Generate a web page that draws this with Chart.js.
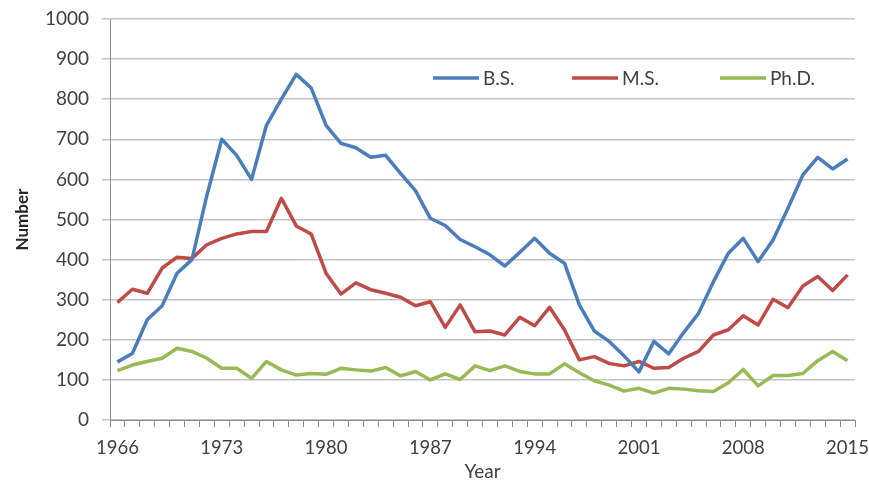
<!DOCTYPE html>
<html>
<head>
<meta charset="utf-8">
<script src="https://cdn.jsdelivr.net/npm/chart.js@4"></script>
<style>
  html, body { margin: 0; padding: 0; background: #fff; }
  #wrap { width: 869px; height: 486px; }
</style>
</head>
<body>
<div id="wrap"><canvas id="chart" width="869" height="486"></canvas></div>
<script>
// Data
const years = [];
for (let y = 1966; y <= 2015; y++) years.push(String(y));

const bsValues = [145, 166, 250, 285, 366, 400, 560, 700, 660, 600,
                  735, 800, 862, 828, 735, 690, 679, 655, 660, 615,
                  572, 503, 485, 450, 432, 412, 384, 418, 453, 416,
                  391, 287, 222, 196, 160, 120, 196, 165, 218, 266,
                  345, 416, 453, 395, 449, 528, 611, 655, 626, 651];
const msValues = [293, 326, 316, 379, 406, 403, 437, 453, 464, 470,
                  470, 553, 484, 464, 366, 314, 342, 325, 316, 306,
                  285, 295, 231, 287, 220, 222, 212, 256, 235, 281,
                  225, 150, 158, 141, 135, 146, 129, 131, 154, 171,
                  212, 225, 260, 237, 301, 280, 334, 358, 323, 362];
const phdValues = [123, 137, 146, 154, 179, 171, 154, 129, 129, 104,
                   146, 125, 112, 116, 114, 129, 125, 122, 131, 110,
                   121, 100, 115, 101, 135, 123, 135, 121, 115, 115,
                   140, 118, 98, 87, 72, 79, 67, 79, 77, 73,
                   71, 93, 126, 85, 111, 111, 116, 148, 171, 148];

const FONT = 'Lato, "Open Sans", sans-serif';
const axisGray = '#8c8c8c';
const gridGray = '#c4c4c4';

// legend drawn inside the plot, like the original
const insideLegend = {
    id: 'insideLegend',
    afterDraw(chart) {
        const c = chart.ctx;
        const y = chart.chartArea.top + 59;
        const starts = [433, 572, 720];
        c.save();
        c.font = '19px ' + FONT;
        c.textBaseline = 'middle';
        chart.data.datasets.forEach((ds, i) => {
            const x = starts[i];
            c.strokeStyle = ds.borderColor;
            c.lineWidth = 3.5;
            c.beginPath();
            c.moveTo(x, y);
            c.lineTo(x + 46, y);
            c.stroke();
            c.fillStyle = '#404040';
            c.fillText(ds.label, x + 50, y + 1);
        });
        c.restore();
    }
};

new Chart(document.getElementById('chart'), {
    type: 'line',
    data: {
        labels: years,
        datasets: [
            { label: 'B.S.', data: bsValues, borderColor: '#4a7ebb' },
            { label: 'M.S.', data: msValues, borderColor: '#be4b48' },
            { label: 'Ph.D.', data: phdValues, borderColor: '#98b954' }
        ]
    },
    options: {
        responsive: false,
        animation: false,
        layout: { padding: { top: 19, right: 14, left: 0, bottom: 0 } },
        elements: {
            line: { borderWidth: 3.5, tension: 0, borderJoinStyle: 'round' },
            point: { radius: 0 }
        },
        plugins: { legend: { display: false }, tooltip: { enabled: false } },
        scales: {
            x: {
                offset: true,
                grid: { offset: true, drawOnChartArea: false, drawTicks: true, tickLength: 7, color: axisGray },
                border: { color: axisGray },
                ticks: {
                    autoSkip: false,
                    maxRotation: 0,
                    color: '#404040',
                    font: { family: FONT, size: 18.5 },
                    padding: 10,
                    callback: function (v, i) { return i % 7 === 0 ? this.getLabelForValue(v) : ''; }
                },
                title: { display: true, text: 'Year', color: '#404040', font: { family: FONT, size: 19 }, padding: { top: 0, bottom: 3 } },
                afterFit(scale) { scale.height = 66; scale.paddingLeft = 0; scale.paddingRight = 0; }
            },
            y: {
                min: 0, max: 1000,
                ticks: { stepSize: 100, color: '#404040', font: { family: FONT, size: 19 }, padding: 13,
                         callback: v => String(v) },
                grid: { color: gridGray, lineWidth: 1.5, drawTicks: true, tickLength: 8 },
                border: { color: axisGray },
                title: { display: true, text: 'Number', color: '#262626', font: { family: FONT, size: 17, weight: 'bold' },
                         padding: { top: 12, bottom: 4 } },
                afterFit(scale) { scale.width = 110; scale.paddingTop = 0; scale.paddingBottom = 0; }
            }
        }
    },
    plugins: [insideLegend]
});
</script>
</body>
</html>
